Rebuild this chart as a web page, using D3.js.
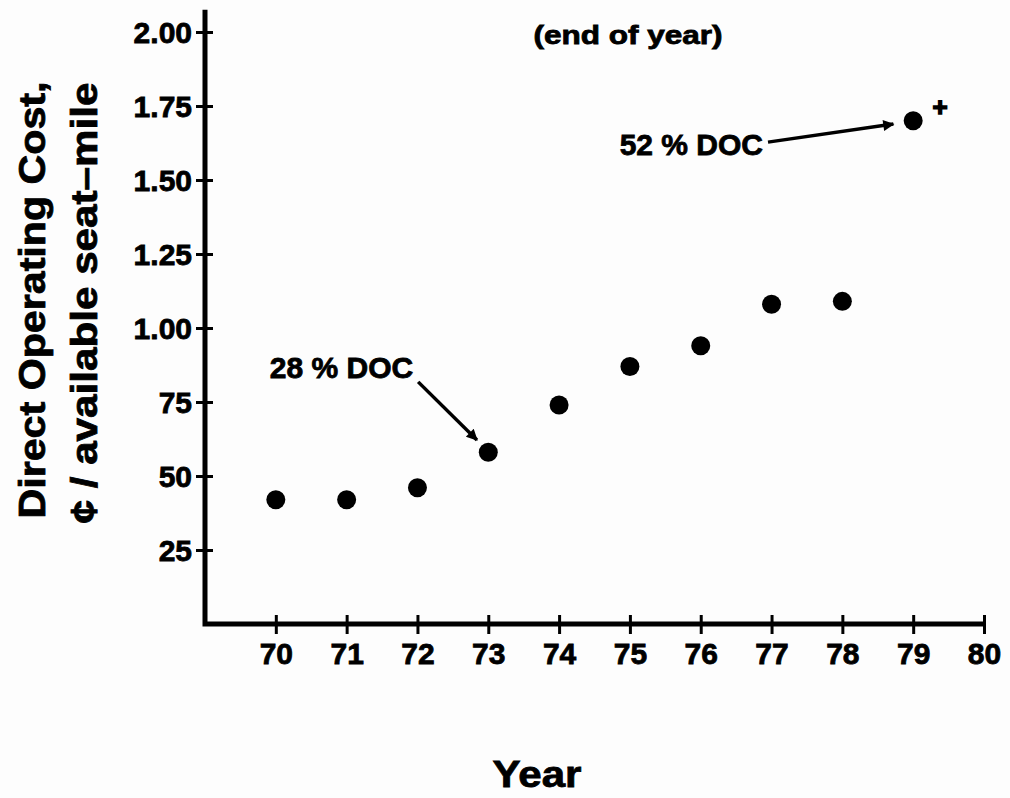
<!DOCTYPE html>
<html>
<head>
<meta charset="utf-8">
<script src="https://cdn.jsdelivr.net/npm/d3@7"></script>
<style>
  html, body { margin: 0; padding: 0; background: #fdfdfd; }
  svg { display: block; }
  text { font-family: "Liberation Sans", Arial, sans-serif; font-weight: bold; fill: #000; stroke: #000; stroke-width: 0.8px; }
</style>
</head>
<body>
<svg id="chart" width="1010" height="798"></svg>
<script>
// Direct operating cost per available seat-mile, end of year
const years = [70, 71, 72, 73, 74, 75, 76, 77, 78, 79];
const costs = [0.42, 0.42, 0.46, 0.58, 0.74, 0.87, 0.94, 1.08, 1.09, 1.70];

const xTickValues = [70, 71, 72, 73, 74, 75, 76, 77, 78, 79, 80];
const yTickValues = [0.25, 0.5, 0.75, 1.0, 1.25, 1.5, 1.75, 2.0];
const yTickLabels = ["25", "50", "75", "1.00", "1.25", "1.50", "1.75", "2.00"];

// Callouts: label anchor and arrow (start -> end) in data units
const callouts = [
  { label: "28 % DOC", lx: 71.94, ly: 0.831, x1: 72.01, y1: 0.818, x2: 72.84, y2: 0.622 },
  { label: "52 % DOC", lx: 76.88, ly: 1.584, x1: 76.95, y1: 1.628, x2: 78.72, y2: 1.689 }
];

const svg = d3.select("#chart");

const x = d3.scaleLinear().domain([69, 80]).range([205, 984]);
const y = d3.scaleLinear().domain([0, 2]).range([624, 32]);

const axisW = 5;

// arrow marker
svg.append("defs").append("marker")
  .attr("id", "arrowhead")
  .attr("viewBox", "0 0 10 10")
  .attr("refX", 9).attr("refY", 5)
  .attr("markerWidth", 4.2).attr("markerHeight", 3.2)
  .attr("markerUnits", "strokeWidth")
  .attr("orient", "auto")
  .append("path")
  .attr("d", "M0,0 L10,5 L0,10 Z")
  .attr("fill", "#000");

// y axis
const yAxis = d3.axisLeft(y)
  .tickValues(yTickValues)
  .tickSize(9)
  .tickPadding(4)
  .tickFormat((d, i) => yTickLabels[i]);

const gy = svg.append("g")
  .attr("transform", `translate(${x(69)},0)`)
  .call(yAxis);
gy.select(".domain").remove();
gy.selectAll(".tick line")
  .attr("x1", -9).attr("x2", 8)
  .attr("stroke", "#000").attr("stroke-width", 3);
gy.selectAll(".tick text")
  .attr("font-size", 30)
  .attr("dy", "0.36em")
  .style("font-family", "'Liberation Sans', Arial, sans-serif")
  .style("font-weight", "bold");

// x axis
const xAxis = d3.axisBottom(x)
  .tickValues(xTickValues)
  .tickSize(9)
  .tickPadding(10)
  .tickFormat(d3.format("d"));

const gx = svg.append("g")
  .attr("transform", `translate(0,${y(0)})`)
  .call(xAxis);
gx.select(".domain").remove();
gx.selectAll(".tick line")
  .attr("y1", -9).attr("y2", 10)
  .attr("stroke", "#000").attr("stroke-width", 3);
gx.selectAll(".tick text")
  .attr("font-size", 30)
  .style("font-family", "'Liberation Sans', Arial, sans-serif")
  .style("font-weight", "bold");

// axis lines (L-shaped frame)
svg.append("path")
  .attr("d", d3.line()([[x(69), y(2.075)], [x(69), y(0)], [x(80), y(0)]]))
  .attr("fill", "none")
  .attr("stroke", "#000")
  .attr("stroke-width", axisW)
  .attr("stroke-linejoin", "miter");

// data points
svg.append("g").selectAll("circle")
  .data(years.map((yr, i) => ({ yr, v: costs[i] })))
  .join("circle")
  .attr("cx", d => x(d.yr))
  .attr("cy", d => y(d.v))
  .attr("r", 9.5)
  .attr("fill", "#000");

// callouts
const cg = svg.append("g");
callouts.forEach(c => {
  cg.append("text")
    .attr("x", x(c.lx)).attr("y", y(c.ly))
    .attr("text-anchor", "end")
    .attr("font-size", 30)
    .text(c.label);
  cg.append("line")
    .attr("x1", x(c.x1)).attr("y1", y(c.y1))
    .attr("x2", x(c.x2)).attr("y2", y(c.y2))
    .attr("stroke", "#000")
    .attr("stroke-width", 3.5)
    .attr("marker-end", "url(#arrowhead)");
});

// small mark next to the 1979 value
svg.append("text")
  .attr("x", x(79.38)).attr("y", y(1.747))
  .attr("text-anchor", "middle")
  .attr("dy", "0.36em")
  .attr("font-size", 26)
  .style("stroke-width", "1.5px")
  .text("+");

// note at top
svg.append("text")
  .attr("x", 628).attr("y", 44)
  .attr("text-anchor", "middle")
  .attr("font-size", 25)
  .attr("textLength", 189)
  .attr("lengthAdjust", "spacingAndGlyphs")
  .text("(end of year)");

// y axis title (two lines)
const yt = svg.append("g").attr("transform", "translate(0,300) rotate(-90)");
yt.append("text")
  .attr("x", 0).attr("y", 45)
  .attr("text-anchor", "middle")
  .attr("font-size", 37)
  .attr("textLength", 437)
  .attr("lengthAdjust", "spacingAndGlyphs")
  .text("Direct Operating Cost,");
yt.append("text")
  .attr("x", -3).attr("y", 97)
  .attr("text-anchor", "middle")
  .attr("font-size", 37)
  .attr("textLength", 441)
  .attr("lengthAdjust", "spacingAndGlyphs")
  .text("¢ / available seat–mile");

// x axis title
svg.append("text")
  .attr("x", 537).attr("y", 787)
  .attr("text-anchor", "middle")
  .attr("font-size", 37)
  .attr("textLength", 89)
  .attr("lengthAdjust", "spacingAndGlyphs")
  .text("Year");
</script>
</body>
</html>
